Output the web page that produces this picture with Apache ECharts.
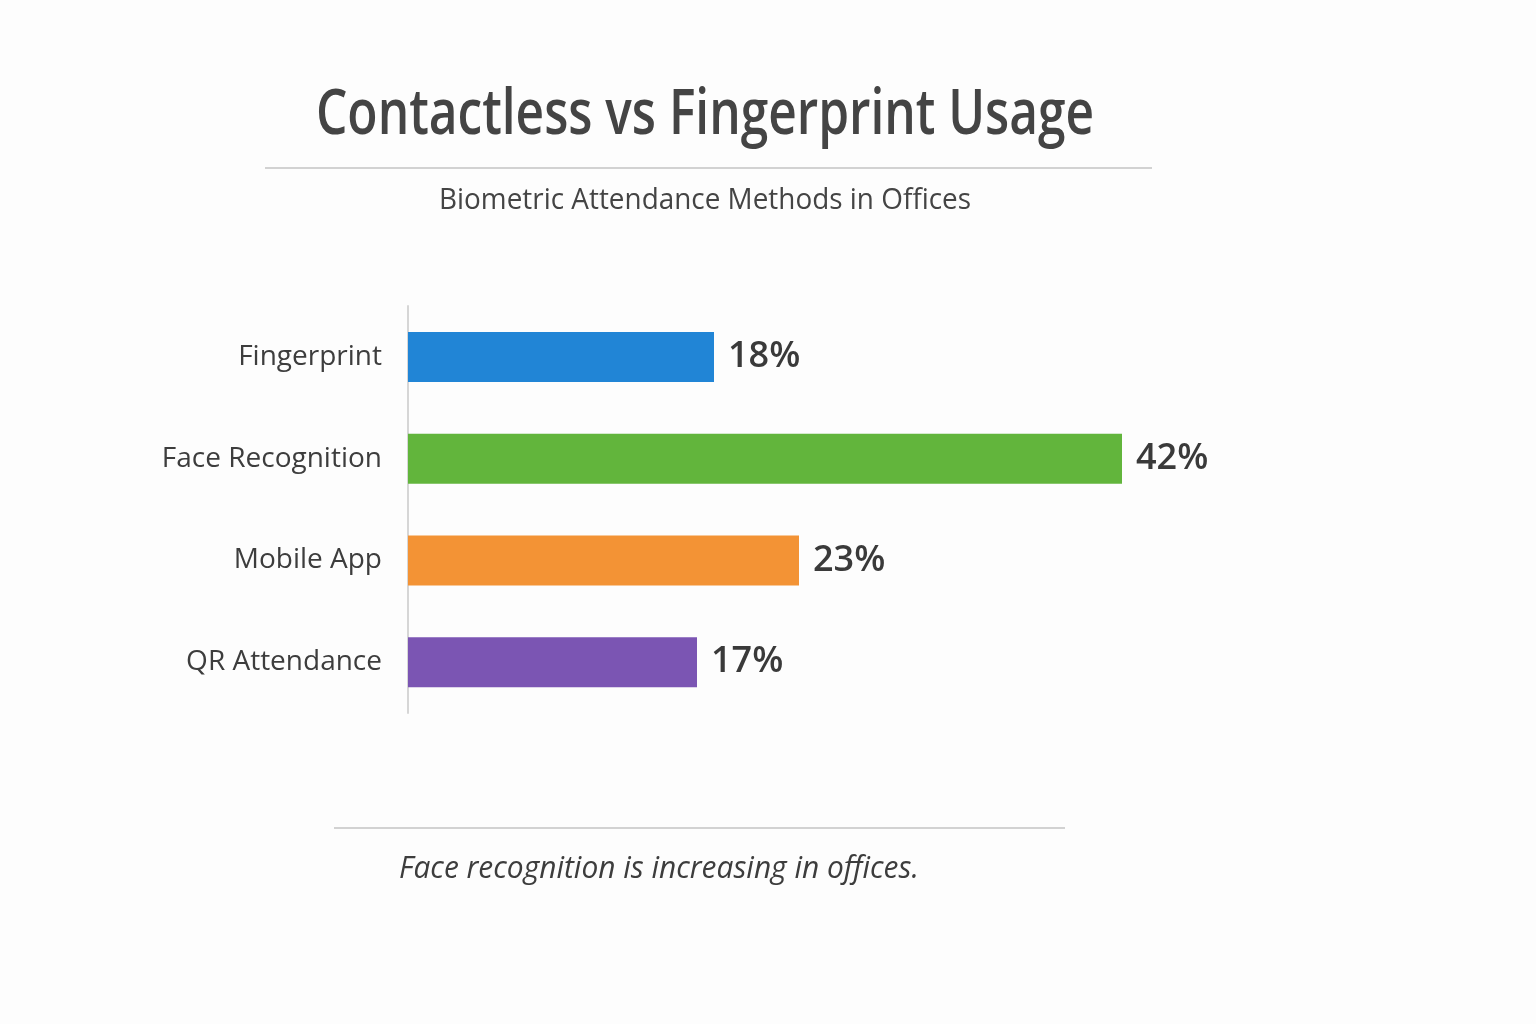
<!DOCTYPE html>
<html>
<head>
<meta charset="utf-8">
<style>
  html, body { margin: 0; padding: 0; background: #fdfdfd; }
  #chart { width: 1536px; height: 1024px; }
</style>
<script src="https://cdn.jsdelivr.net/npm/echarts@6/dist/echarts.min.js"></script>
</head>
<body>
<div id="chart"></div>
<script>
// chart data
var methods = ['Fingerprint', 'Face Recognition', 'Mobile App', 'QR Attendance'];
var usage = [18, 42, 23, 17];
var barColors = ['#2185d6', '#62b53c', '#f39335', '#7b55b3'];

var titleText = 'Contactless vs Fingerprint Usage';
var subtitleText = 'Biometric Attendance Methods in Offices';
var noteText = 'Face recognition is increasing in offices.';

var chart = echarts.init(document.getElementById('chart'));

var option = {
    backgroundColor: '#fdfdfd',
    animation: false,
    grid: { left: 408, top: 306, width: 850, height: 407 },
    xAxis: {
        type: 'value',
        min: 0,
        max: 50,
        show: false
    },
    yAxis: {
        type: 'category',
        data: methods,
        inverse: true,
        axisLine: { show: true, lineStyle: { color: '#d6d6d6', width: 2 } },
        axisTick: { show: false },
        axisLabel: {
            margin: 26,
            fontFamily: 'Open Sans',
            fontSize: 28,
            color: '#3d3d3d'
        }
    },
    series: [{
        type: 'bar',
        barWidth: 50,
        data: usage.map(function (v, i) {
            return { value: v, itemStyle: { color: barColors[i] } };
        }),
        label: {
            show: true,
            position: 'right',
            distance: 14,
            formatter: '{c}%',
            fontFamily: 'Open Sans',
            fontSize: 36,
            fontWeight: 600,
            color: '#3a3a3a'
        }
    }],
    graphic: [
        {
            type: 'text', x: 705, y: 116, scaleX: 0.775,
            style: {
                text: titleText, font: '600 64px "Open Sans"', fill: '#444444',
                textAlign: 'center', textVerticalAlign: 'middle'
            }
        },
        {
            type: 'line',
            shape: { x1: 265, y1: 168, x2: 1152, y2: 168 },
            style: { stroke: '#d2d2d2', lineWidth: 2 }
        },
        {
            type: 'text', x: 705, y: 200, scaleX: 0.93,
            style: {
                text: subtitleText, font: '30px "Open Sans"', fill: '#444444',
                textAlign: 'center', textVerticalAlign: 'middle'
            }
        },
        {
            type: 'line',
            shape: { x1: 334, y1: 828, x2: 1065, y2: 828 },
            style: { stroke: '#d2d2d2', lineWidth: 2 }
        },
        {
            type: 'text', x: 659, y: 869, scaleX: 0.965,
            style: {
                text: noteText, font: 'italic 31px "Open Sans"', fill: '#3d3d3d',
                textAlign: 'center', textVerticalAlign: 'middle'
            }
        }
    ]
};

chart.setOption(option);
</script>
</body>
</html>
